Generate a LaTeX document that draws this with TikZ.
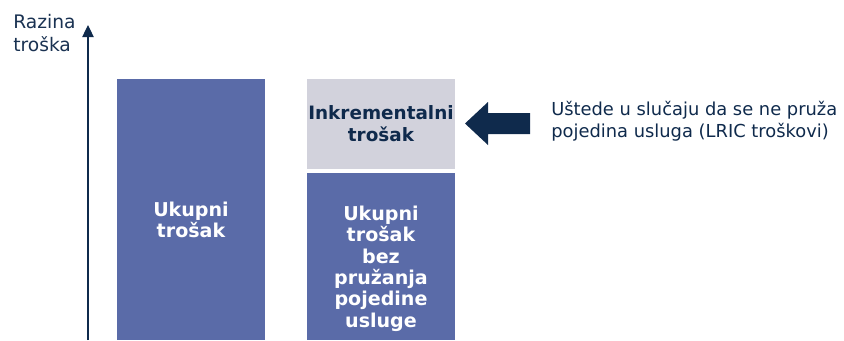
\documentclass[tikz,border=0pt]{standalone}
\usepackage{fontspec}
\setmainfont{DejaVu Sans}
\usetikzlibrary{arrows.meta}

\definecolor{barblue}{HTML}{5A6BA8}
\definecolor{incgrey}{HTML}{D2D2DC}
\definecolor{navy}{HTML}{0F2A4C}
\definecolor{labelblue}{HTML}{1A3252}

\tikzset{
  bar/.style={fill=barblue, minimum width=111pt, inner sep=0pt},
  bartext/.style={text=white, font=\fontsize{14.3}{16}\selectfont\bfseries, align=center, inner sep=0pt},
  incbar/.style={bar, fill=incgrey, text=navy, align=center,
    font=\fontsize{13.8}{16.5}\selectfont\bfseries},
  axislabel/.style={text=labelblue, font=\fontsize{14}{17}\selectfont, align=left, inner sep=0pt},
  notetext/.style={axislabel, text=navy, font=\fontsize{13.4}{16.5}\selectfont},
}

\begin{document}
\begin{tikzpicture}[x=0.75pt,y=-0.75pt]
  \useasboundingbox (0,0) rectangle (844,340);
  % axis
  \coordinate (origin) at (88,340);
  \coordinate (top) at (88,25);
  \draw[navy, line width=0.9pt, -{Triangle[width=8.5pt,length=9pt]}] (origin) -- (top);
  \node[axislabel, anchor=west] (level) at (13,33) {Razina\\troška};
  % bars
  \node[bar, minimum height=195.75pt] (total) at (191,209.5) {};
  \node[bartext] (totaltext) at ([yshift=-8pt]total.center) {Ukupni\\trošak};
  \node[incbar, minimum height=67.5pt] (incr) at (381,124) {Inkrementalni\\trošak};
  \node[bar, minimum height=125.25pt] (rest) at (381,256.5) {};
  \node[bartext] (resttext) at ([yshift=-9pt]rest.center)
    {Ukupni\\trošak\\bez\\pružanja\\pojedine\\usluge};
  % block arrow
  \fill[navy] (465,123.5) -- (488,102) -- (488,113) -- (530,113) -- (530,134)
    -- (488,134) -- (488,145) -- cycle;
  \node[notetext, anchor=west] (savings) at (551,121)
    {Uštede u slučaju da se ne pruža\\pojedina usluga (LRIC troškovi)};
\end{tikzpicture}
\end{document}
